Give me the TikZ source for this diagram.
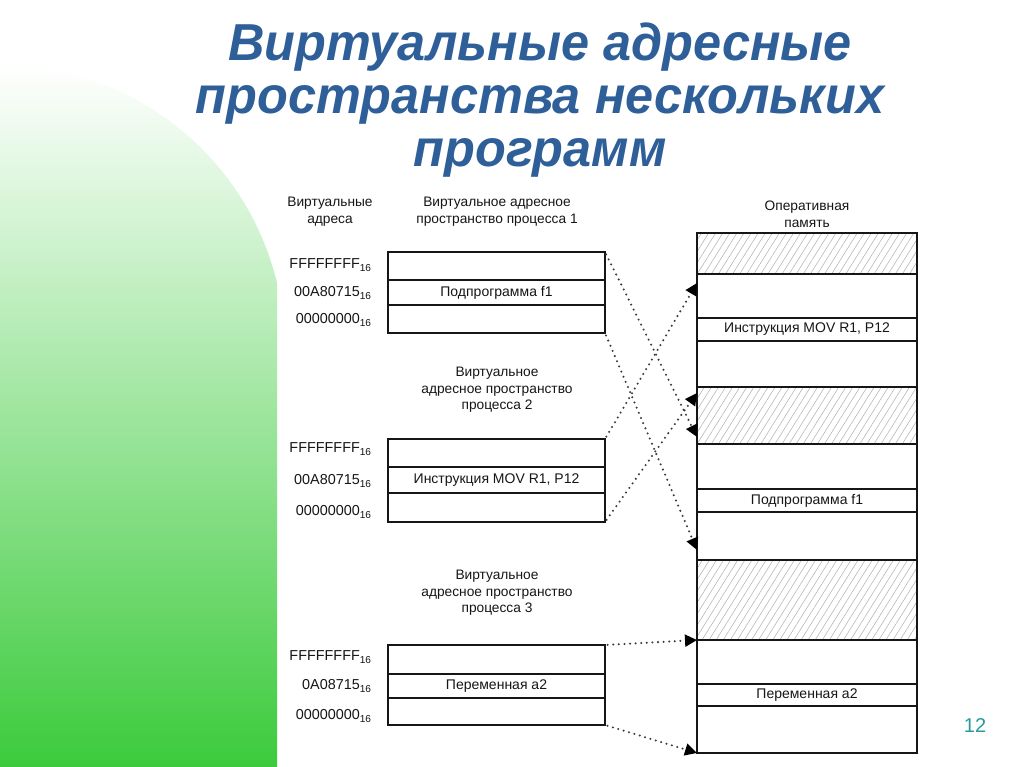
\documentclass[tikz,border=0pt]{standalone}
\usepackage{fontspec}
\setmainfont{Liberation Sans}
\newfontfamily\titlefont{Liberation Sans}[FakeStretch=0.97]
\usetikzlibrary{arrows.meta,patterns.meta,calc}
\definecolor{titleblue}{HTML}{2E5F99}
\definecolor{pgnum}{HTML}{2A9A9A}
\definecolor{grn}{HTML}{3CCB3C}
\definecolor{ink}{HTML}{161616}
\newcommand\pxl{0.75pt}
\tikzset{
 cell/.style={draw=ink, line width=1pt, rectangle, inner sep=0pt, outer sep=0pt, minimum width=217*\pxl, anchor=north west, font=\fontsize{10.5}{12}\selectfont, text=ink},
 ramcell/.style={cell, minimum width=220*\pxl},
 hatch/.style={pattern={Lines[angle=58,distance=4.5pt,line width=0.4pt]}, pattern color=gray!60},
 hdr/.style={align=center, font=\fontsize{10.3}{12.5}\selectfont, text=ink, inner sep=0pt},
 addr/.style={anchor=east, font=\fontsize{10.8}{12}\selectfont, text=ink, inner sep=0pt},
 map/.style={draw=gray!45!black, line width=1.7pt, line cap=round, dash pattern=on 0pt off 4.2pt, shorten <=2pt, -{Triangle[length=9pt,width=9pt,color=black]}},
 title/.style={font=\titlefont\fontsize{39}{40}\selectfont\bfseries\itshape, text=titleblue, align=center, inner sep=0pt},
 pnum/.style={font=\fontsize{15}{18}\selectfont, text=pgnum, inner sep=0pt}
}
\begin{document}
\begin{tikzpicture}[x=0.75pt, y=-0.75pt]
\useasboundingbox (0,0) rectangle (1024,767);
\fill[white] (0,0) rectangle (1024,767);
% green background shape
\shade[top color=white, bottom color=grn] (0,65) arc[start angle=-90, end angle=-13.6, radius=285] -- (277,767) -- (0,767) -- cycle;
% title
\node[title] (title) at (540,100) {Виртуальные адресные\\пространства нескольких\\программ};
% headers
\node[hdr] (h0) at (330,212) {Виртуальные\\адреса};
\node[hdr] (h1) at (497,212) {Виртуальное адресное\\пространство процесса 1};
\node[hdr] (h2) at (497,390) {Виртуальное\\адресное пространство\\процесса 2};
\node[hdr] (h3) at (497,593) {Виртуальное\\адресное пространство\\процесса 3};
\node[hdr] (hr) at (807,214) {Оперативная\\память};
% process 1
\node[cell, minimum height=28*\pxl] (b1a) at (388,252) {};
\node[cell, minimum height=25*\pxl] (b1b) at (388,280) {Подпрограмма  f1};
\node[cell, minimum height=28*\pxl] (b1c) at (388,305) {};
% process 2
\node[cell, minimum height=28*\pxl] (b2a) at (388,439) {};
\node[cell, minimum height=26*\pxl] (b2b) at (388,467) {Инструкция MOV R1, P12};
\node[cell, minimum height=29*\pxl] (b2c) at (388,493) {};
% process 3
\node[cell, minimum height=29*\pxl] (b3a) at (388,645) {};
\node[cell, minimum height=24*\pxl] (b3b) at (388,674) {Переменная a2};
\node[cell, minimum height=27*\pxl] (b3c) at (388,698) {};
% addresses
\node[addr] (a11) at (372,265) {FFFFFFFF\textsubscript{16}};
\node[addr] (a12) at (372,293) {00A80715\textsubscript{16}};
\node[addr] (a13) at (372,320) {00000000\textsubscript{16}};
\node[addr] (a21) at (372,449) {FFFFFFFF\textsubscript{16}};
\node[addr] (a22) at (372,481) {00A80715\textsubscript{16}};
\node[addr] (a23) at (372,512) {00000000\textsubscript{16}};
\node[addr] (a31) at (372,657) {FFFFFFFF\textsubscript{16}};
\node[addr] (a32) at (372,686) {0A08715\textsubscript{16}};
\node[addr] (a33) at (372,716) {00000000\textsubscript{16}};
% RAM
\node[ramcell, hatch, minimum height=41*\pxl] (r1) at (697,233) {};
\node[ramcell, minimum height=44*\pxl] (r2) at (697,274) {};
\node[ramcell, minimum height=23*\pxl] (r3) at (697,318) {Инструкция MOV R1, P12};
\node[ramcell, minimum height=46*\pxl] (r4) at (697,341) {};
\node[ramcell, hatch, minimum height=57*\pxl] (r5) at (697,387) {};
\node[ramcell, minimum height=45*\pxl] (r6) at (697,444) {};
\node[ramcell, minimum height=23*\pxl] (r7) at (697,489) {Подпрограмма  f1};
\node[ramcell, minimum height=48*\pxl] (r8) at (697,512) {};
\node[ramcell, hatch, minimum height=80*\pxl] (r9) at (697,560) {};
\node[ramcell, minimum height=44*\pxl] (r10) at (697,640) {};
\node[ramcell, minimum height=22*\pxl] (r11) at (697,684) {Переменная a2};
\node[ramcell, minimum height=47*\pxl] (r12) at (697,706) {};
% mappings
\draw[map] (b1a.north east) -- ($(r5.south west)+(0,-7)$);
\draw[map] (b1c.south east) -- ($(r8.south west)+(0,-10)$);
\draw[map] (b2a.north east) -- ($(r2.north west)+(0,9)$);
\draw[map] (b2c.south east) -- ($(r5.north west)+(0,6)$);
\draw[map] (b3a.north east) -- (r10.north west);
\draw[map] (b3c.south east) -- (r12.south west);
% page number
\node[pnum] (pg) at (975,726) {12};
\end{tikzpicture}
\end{document}
